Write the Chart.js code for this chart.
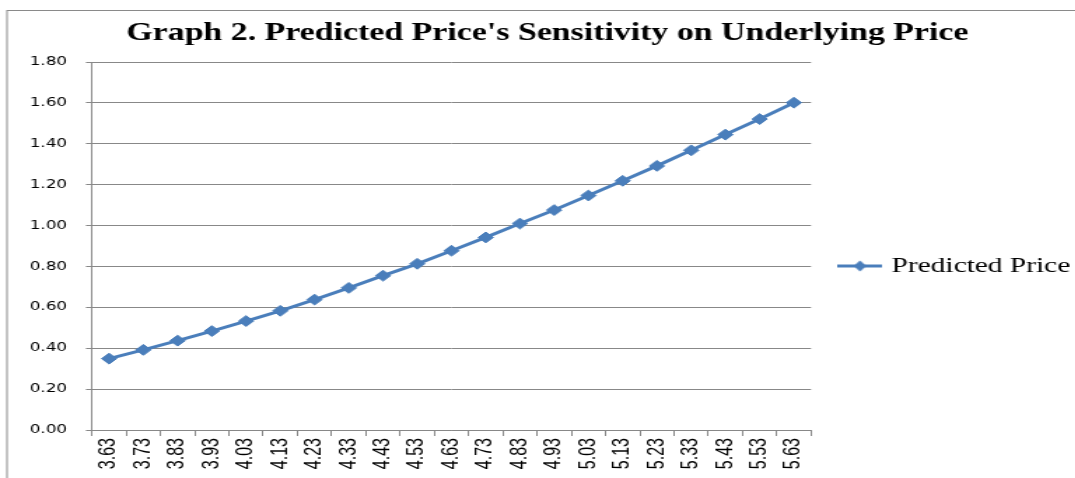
<!DOCTYPE html>
<html><head><meta charset="utf-8">
<script src="https://cdn.jsdelivr.net/npm/chart.js@4/dist/chart.umd.min.js"></script>
<style>
html,body{margin:0;padding:0;background:#fff;overflow:hidden;width:1075px;height:478px;}
#c{display:block;transform:scaleX(1.4);transform-origin:0 0;}
</style></head><body>
<canvas id="c" width="782" height="478"></canvas>
<script>
const categories = ['3.63','3.73','3.83','3.93','4.03','4.13','4.23','4.33','4.43','4.53','4.63','4.73','4.83','4.93','5.03','5.13','5.23','5.33','5.43','5.53','5.63'];
const predictedPrice = [0.349,0.392,0.437,0.484,0.533,0.583,0.638,0.695,0.755,0.813,0.877,0.942,1.010,1.076,1.147,1.219,1.292,1.368,1.445,1.521,1.601];
const seriesName = 'Predicted Price';
const chartTitle = "Graph 2. Predicted Price's Sensitivity on Underlying Price";
const yMin = 0;
const yMax = 1.8;
const yStep = 0.2;

const lineColor = '#4a7ebb';
const gridColor = '#888888';

// legend marker: short line with a diamond
const legendMarker = document.createElement('canvas');
legendMarker.width = 32; legendMarker.height = 14;
(function(){
  const g = legendMarker.getContext('2d');
  g.strokeStyle = lineColor; g.lineWidth = 3;
  g.beginPath(); g.moveTo(0,7); g.lineTo(32,7); g.stroke();
  g.fillStyle = lineColor;
  g.beginPath(); g.moveTo(16,1.5); g.lineTo(20.5,7); g.lineTo(16,12.5); g.lineTo(11.5,7); g.closePath(); g.fill();
})();

const framePlugin = {
  id: 'frame',
  beforeDraw(chart) {
    const ctx = chart.ctx;
    ctx.save();
    ctx.fillStyle = '#ffffff';
    ctx.fillRect(0, 0, chart.width, chart.height);
    ctx.strokeStyle = '#8a8a8a';
    ctx.lineWidth = 1;
    ctx.strokeRect(5, 10.5, chart.width + 20, chart.height + 20);
    ctx.restore();
  }
};

new Chart(document.getElementById('c'), {
  type: 'line',
  data: {
    labels: categories,
    datasets: [{
      label: seriesName,
      data: predictedPrice,
      borderColor: lineColor,
      backgroundColor: lineColor,
      borderWidth: 3,
      pointStyle: 'rectRot',
      pointRadius: 5.4,
      pointBackgroundColor: lineColor,
      pointBorderColor: lineColor,
      pointBorderWidth: 1,
      tension: 0,
      fill: false
    }]
  },
  options: {
    responsive: false,
    animation: false,
    devicePixelRatio: 1,
    layout: { padding: { left: 14.4, right: 14.4, top: 0, bottom: 0 } },
    plugins: {
      title: {
        display: true,
        text: chartTitle,
        color: '#000',
        font: { family: "'Liberation Serif', 'Times New Roman', serif", size: 24.2, weight: 'bold' },
        padding: { top: 19, bottom: 14 }
      },
      legend: {
        display: true,
        position: 'right',
        title: { display: true, text: ' ', font: { size: 10 }, padding: { top: 42, bottom: 0 } },
        labels: {
          usePointStyle: true,
          pointStyle: legendMarker,
          pointStyleWidth: 24,
          padding: 23,
          color: '#000',
          font: { family: "'Liberation Serif', 'Times New Roman', serif", size: 21 }
        }
      },
      tooltip: { enabled: false }
    },
    scales: {
      x: {
        type: 'category',
        offset: true,
        grid: { display: true, drawOnChartArea: false, drawTicks: true, tickLength: 6, offset: true, color: gridColor },
        border: { display: true, color: gridColor },
        ticks: {
          minRotation: 90, maxRotation: 90, autoSkip: false, padding: 2,
          color: '#000',
          font: { family: "'Liberation Sans', Arial, sans-serif", size: 16 }
        },
        afterFit(scale) { scale.height = 48; }
      },
      y: {
        min: yMin, max: yMax,
        grid: { color: gridColor, tickLength: 4.3, drawTicks: true },
        border: { display: true, color: gridColor },
        ticks: {
          stepSize: yStep,
          padding: 13.5,
          color: '#000',
          font: { family: "'DejaVu Sans', Verdana, sans-serif", size: 12 },
          callback: (v) => Number(v).toFixed(2)
        },
        afterFit(scale) { scale.width = 51.3; }
      }
    }
  },
  plugins: [framePlugin]
});
</script>
</body></html>
